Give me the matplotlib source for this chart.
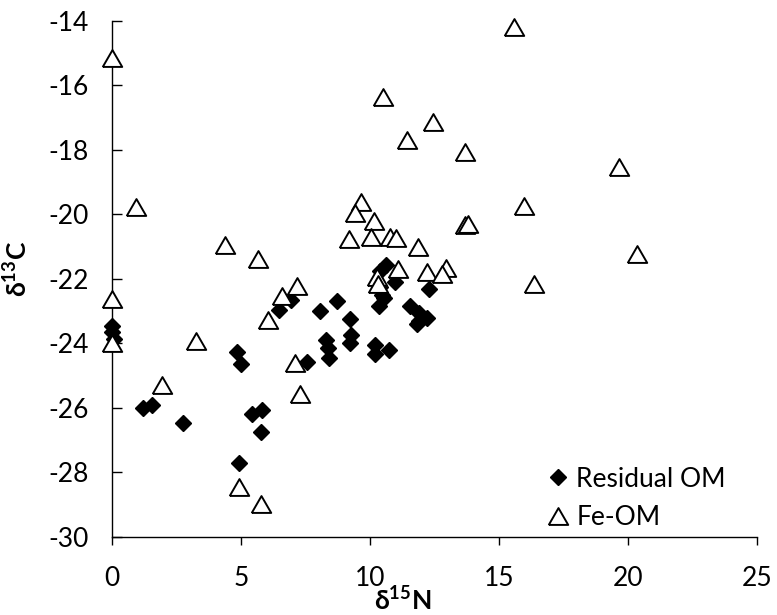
import matplotlib
matplotlib.use("Agg")
import matplotlib.pyplot as plt
import numpy as np

plt.rcParams['font.family'] = ['Lato', 'DejaVu Sans']
plt.rcParams['axes.unicode_minus'] = False
plt.rcParams['mathtext.fontset'] = 'custom'
plt.rcParams['mathtext.rm'] = 'Lato'
plt.rcParams['mathtext.bf'] = 'Lato:bold'
plt.rcParams['mathtext.fallback'] = 'stixsans'

# === DATOS ===
res_n = [0.0, 0.0, 0.05, 1.2, 1.55, 2.75, 4.85, 5.0, 5.4, 5.8, 5.75, 4.9,
         6.45, 6.95, 8.05, 8.7, 9.2, 9.25, 9.2, 8.3, 8.35, 8.42, 7.55,
         10.2, 10.2, 10.75, 10.6, 10.4, 10.95, 10.4, 10.45, 10.55, 10.35,
         11.55, 11.9, 11.8, 12.2, 12.3, 11.9]
res_c = [-23.45, -23.65, -23.85, -26.0, -25.9, -26.48, -24.28, -24.63, -26.2, -26.05, -26.75, -27.72,
         -22.95, -22.65, -23.0, -22.7, -23.25, -23.75, -24.0, -23.88, -24.15, -24.45, -24.58,
         -24.05, -24.33, -24.2, -21.58, -21.75, -22.1, -22.25, -22.5, -22.6, -22.85,
         -22.85, -23.05, -23.4, -23.2, -22.3, -23.3]

fe_n = [0.0, 0.92, 10.5, 11.41, 12.42, 13.67, 15.57, 19.64, 15.97, 13.67, 13.8, 20.33,
        16.34, 11.86, 12.22, 12.93, 12.77, 9.65, 9.41, 10.16, 9.19, 10.05, 10.76, 11.02,
        4.37, 5.66, 7.15, 6.57, 10.25, 10.3, 11.08, 0.0, 0.0, 3.23, 1.91, 6.05, 7.08,
        7.27, 4.92, 5.76]
fe_c = [-15.15, -19.76, -16.36, -17.68, -17.15, -18.06, -14.19, -18.52, -19.74, -20.33, -20.3, -21.23,
        -22.16, -21.02, -21.8, -21.65, -21.85, -19.61, -19.95, -20.2, -20.77, -20.69, -20.71, -20.74,
        -20.95, -21.39, -22.22, -22.52, -21.93, -22.15, -21.7, -22.63, -23.98, -23.92, -25.29, -23.27, -24.6,
        -25.57, -28.44, -28.98]

x_ticks = [0, 5, 10, 15, 20, 25]
y_ticks = [-30, -28, -26, -24, -22, -20, -18, -16, -14]

# triángulo equilátero
tri = [(-1, -0.866), (1, -0.866), (0, 0.866), (-1, -0.866)]

fig = plt.figure(figsize=(7.77, 6.15), dpi=100)
ax = fig.add_axes([0.1445, 0.127, 0.8297, 0.839])

ax.plot(res_n, res_c, linestyle='none', marker='D', markersize=8.5,
        color='black', label='Residual OM', zorder=2, clip_on=False)
ax.plot(fe_n, fe_c, linestyle='none', marker=tri, markersize=14,
        markerfacecolor='white', markeredgecolor='black', markeredgewidth=1.4,
        label='Fe-OM', zorder=3, clip_on=False)

ax.set_xlim(0, 25)
ax.set_ylim(-30, -14)
ax.set_xticks(x_ticks)
ax.set_yticks(y_ticks)

for s in ['top', 'right']:
    ax.spines[s].set_visible(False)
for s in ['left', 'bottom']:
    ax.spines[s].set_linewidth(1.0)
    ax.spines[s].set_zorder(1)

ax.tick_params(axis='x', direction='out', length=6, width=1.0, pad=15, labelsize=19)
ax.tick_params(axis='y', direction='in', length=7, width=1.0, pad=17, labelsize=19)

ax.set_xlabel(r'$\mathbf{\delta^{15}N}$', fontsize=19)
ax.set_ylabel(r'$\mathbf{\delta^{13}C}$', fontsize=19)
ax.xaxis.set_label_coords(0.451, -0.097)
ax.yaxis.set_label_coords(-0.124, 0.52)

leg = ax.legend(loc='center left', bbox_to_anchor=(0.675, 0.075), frameon=False,
                fontsize=19, handlelength=0.8, handletextpad=0.3, borderpad=0,
                borderaxespad=0, labelspacing=0.5, numpoints=1)

fig.savefig('out.png', dpi=100)
